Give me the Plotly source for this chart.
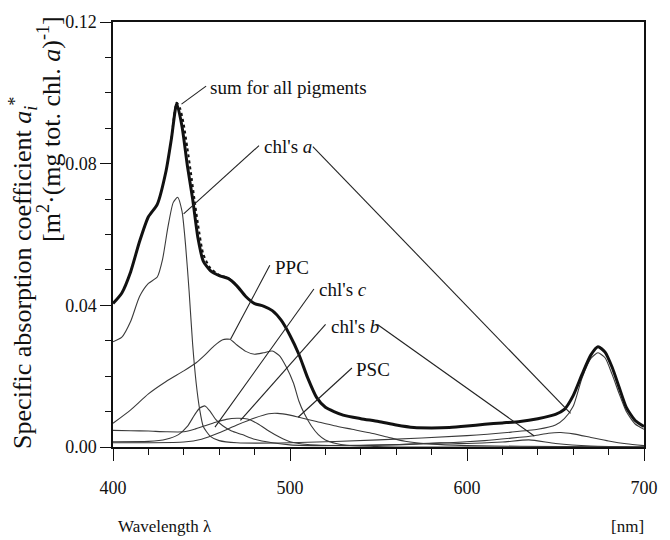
import plotly.graph_objects as go

# ---- data ----
sum_wl = [400, 405, 410, 415, 420, 425, 430, 433, 436, 439, 442, 445, 448, 451, 455, 460, 465, 470,
          475, 480, 485, 490, 495, 500, 505, 510, 515, 520, 530, 540, 550, 560, 570, 580, 590, 600,
          610, 620, 630, 640, 650, 655, 660, 665, 670, 674, 678, 682, 686, 690, 695, 700]
sum_val = [0.0405, 0.0435, 0.0495, 0.0580, 0.0650, 0.0685, 0.0780, 0.0870, 0.0970, 0.0905, 0.0795,
           0.0700, 0.0590, 0.0525, 0.0498, 0.0484, 0.0476, 0.0455, 0.0425, 0.0405, 0.0398, 0.0385,
           0.0358, 0.0315, 0.0262, 0.0195, 0.0140, 0.0112, 0.0090, 0.0080, 0.0072, 0.0062, 0.0055,
           0.0054, 0.0055, 0.0059, 0.0064, 0.0068, 0.0072, 0.0080, 0.0092, 0.0106, 0.0145, 0.0205,
           0.0260, 0.0283, 0.0268, 0.0225, 0.0168, 0.0112, 0.0075, 0.0058]

sumdot_wl = [433, 436, 438, 440, 442, 444, 446, 448, 451, 455, 460, 465, 470]
sumdot_val = [0.0870, 0.0972, 0.0955, 0.0910, 0.0845, 0.0775, 0.0700, 0.0630, 0.0545, 0.0505,
              0.0486, 0.0477, 0.0456]

chla_wl = [400, 405, 410, 415, 420, 425, 428, 431, 434, 436.5, 439, 441, 443, 445, 447, 449, 451,
           455, 460, 470, 500, 550, 600, 625, 640, 650, 655, 660, 665, 670, 674, 678, 682, 686,
           690, 695, 700]
chla_val = [0.0297, 0.0310, 0.0355, 0.0425, 0.0462, 0.0480, 0.0530, 0.0620, 0.0690, 0.0705,
            0.0665, 0.0570, 0.0440, 0.0290, 0.0180, 0.0105, 0.0058, 0.0030, 0.0018, 0.0012,
            0.0012, 0.0020, 0.0032, 0.0042, 0.0050, 0.0062, 0.0080, 0.0115, 0.0195, 0.0250,
            0.0266, 0.0252, 0.0205, 0.0150, 0.0100, 0.0065, 0.0050]

ppc_wl = [400, 410, 420, 430, 440, 447, 452, 457, 462, 466, 470, 475, 480, 485, 490, 494, 498,
          502, 505, 508, 512, 516, 520, 526, 532, 545, 560, 700]
ppc_val = [0.0067, 0.0105, 0.0150, 0.0185, 0.0215, 0.0238, 0.0260, 0.0285, 0.0303, 0.0304,
           0.0288, 0.0270, 0.0262, 0.0266, 0.0271, 0.0258, 0.0225, 0.0180, 0.0130, 0.0095,
           0.0060, 0.0035, 0.0020, 0.0010, 0.0005, 0.0002, 0.0, 0.0]

chlc_wl = [400, 420, 430, 437, 442, 446, 449, 452, 455, 458, 462, 467, 473, 480, 490, 500, 520,
           560, 585, 600, 620, 635, 650, 670, 700]
chlc_val = [0.0015, 0.0016, 0.0022, 0.0035, 0.0058, 0.0090, 0.0110, 0.0116, 0.0100, 0.0078,
            0.0060, 0.0045, 0.0035, 0.0022, 0.0012, 0.0006, 0.0004, 0.0007, 0.0012, 0.0010,
            0.0014, 0.0020, 0.0010, 0.0003, 0.0]

chlb_wl = [400, 410, 420, 430, 440, 446, 452, 458, 464, 470, 476, 482, 488, 494, 500, 510, 530,
           560, 590, 610, 625, 638, 646, 653, 660, 670, 680, 690, 700]
chlb_val = [0.0047, 0.0046, 0.0045, 0.0043, 0.0043, 0.0050, 0.0060, 0.0070, 0.0078, 0.0081,
            0.0079, 0.0065, 0.0045, 0.0028, 0.0015, 0.0007, 0.0004, 0.0006, 0.0012, 0.0018,
            0.0025, 0.0032, 0.0039, 0.0041, 0.0037, 0.0027, 0.0017, 0.0009, 0.0004]

psc_wl = [400, 420, 440, 450, 460, 470, 480, 488, 493, 500, 505, 515, 525, 535, 545, 555, 565,
          580, 600, 630, 700]
psc_val = [0.0012, 0.0012, 0.0014, 0.0022, 0.0040, 0.0062, 0.0082, 0.0094, 0.0095, 0.0090,
           0.0084, 0.0072, 0.0060, 0.0050, 0.0040, 0.0028, 0.0016, 0.0008, 0.0004, 0.0002, 0.0]

x_ticks = [400, 500, 600, 700]
y_ticks = [0.00, 0.04, 0.08, 0.12]

# labels: (text, text x, text y)
labels = [
    ("sum for all pigments", 453.7, 0.1016),
    ("chl's <i>a</i>", 484.1, 0.0848),
    ("PPC", 490.2, 0.0508),
    ("chl's <i>c</i>", 515.1, 0.0446),
    ("chl's <i>b</i>", 521.8, 0.0340),
    ("PSC", 536.2, 0.0220),
]
# leader lines: (x0, y0, x1, y1)
leaders = [
    (452.6, 0.1019, 438.7, 0.0968),
    (482.5, 0.0851, 439.9, 0.0658),
    (512.9, 0.0848, 658.5, 0.0095),
    (488.6, 0.0513, 466.4, 0.0304),
    (513.5, 0.0446, 457.6, 0.0056),
    (520.1, 0.0346, 472.0, 0.0075),
    (549.4, 0.0346, 638.0, 0.0031),
    (535.0, 0.0223, 504.6, 0.0084),
]

FONT = "Liberation Serif"
thin = dict(color="#3a3a3a", width=1.1, shape="spline", smoothing=0.6)

fig = go.Figure()
for wl, val in [(chla_wl, chla_val), (ppc_wl, ppc_val), (chlc_wl, chlc_val),
                (chlb_wl, chlb_val), (psc_wl, psc_val)]:
    fig.add_trace(go.Scatter(x=wl, y=val, mode="lines", line=thin, hoverinfo="skip"))
fig.add_trace(go.Scatter(x=sumdot_wl, y=sumdot_val, mode="lines",
                         line=dict(color="#111", width=2, dash="dot", shape="spline", smoothing=0.6)))
fig.add_trace(go.Scatter(x=sum_wl, y=sum_val, mode="lines",
                         line=dict(color="#111", width=3, shape="spline", smoothing=0.6)))

for x0, y0, x1, y1 in leaders:
    fig.add_shape(type="line", x0=x0, y0=y0, x1=x1, y1=y1, xref="x", yref="y",
                  line=dict(color="#222", width=1.1))

for text, x, y in labels:
    fig.add_annotation(x=x, y=y, text=text, showarrow=False, xanchor="left", yanchor="middle",
                       font=dict(family=FONT, size=19, color="#111"))

# axis titles
fig.add_annotation(x=-0.170, y=0.409, xref="paper", yref="paper", textangle=-90, showarrow=False,
                   xanchor="center", yanchor="middle",
                   text="Specific absorption coefficient <i>a</i><sub><i>i</i></sub><sup>*</sup>",
                   font=dict(family=FONT, size=26, color="#111"))
fig.add_annotation(x=-0.120, y=0.749, xref="paper", yref="paper", textangle=-90, showarrow=False,
                   xanchor="center", yanchor="middle",
                   text="[m<sup>2</sup>·(mg tot. chl. <i>a</i>)<sup>-1</sup>]",
                   font=dict(family=FONT, size=26, color="#111"))
fig.add_annotation(x=0.006, y=-0.186, xref="paper", yref="paper", showarrow=False,
                   xanchor="left", yanchor="middle", text="Wavelength λ",
                   font=dict(family=FONT, size=17, color="#111"))
fig.add_annotation(x=1.004, y=-0.186, xref="paper", yref="paper", showarrow=False,
                   xanchor="right", yanchor="middle", text="[nm]",
                   font=dict(family=FONT, size=17, color="#111"))

fig.update_layout(
    width=670, height=540, margin=dict(l=113, r=15, t=17, b=93),
    paper_bgcolor="white", plot_bgcolor="white", showlegend=False,
    font=dict(family=FONT, size=18, color="#111"),
)
fig.update_xaxes(range=[400, 700], tickvals=x_ticks, ticks="outside", ticklen=12, tickwidth=1.3,
                 tickcolor="#111", showline=True, linecolor="#111", linewidth=1.5, mirror=True,
                 showgrid=False, zeroline=False, ticklabelstandoff=12,
                 minor=dict(dtick=20, tick0=400, ticks="outside", ticklen=6, tickcolor="#111",
                            tickwidth=1.1, showgrid=False))
fig.update_yaxes(range=[0, 0.12], tickvals=y_ticks, tickformat=".2f", ticks="outside", ticklen=11,
                 tickwidth=1.3, tickcolor="#111", showline=True, linecolor="#111", linewidth=1.5,
                 mirror=True, showgrid=False, zeroline=False,
                 minor=dict(dtick=0.01, tick0=0, ticks="outside", ticklen=6, tickcolor="#111",
                            tickwidth=1.1, showgrid=False))

fig.write_html("out.html")
